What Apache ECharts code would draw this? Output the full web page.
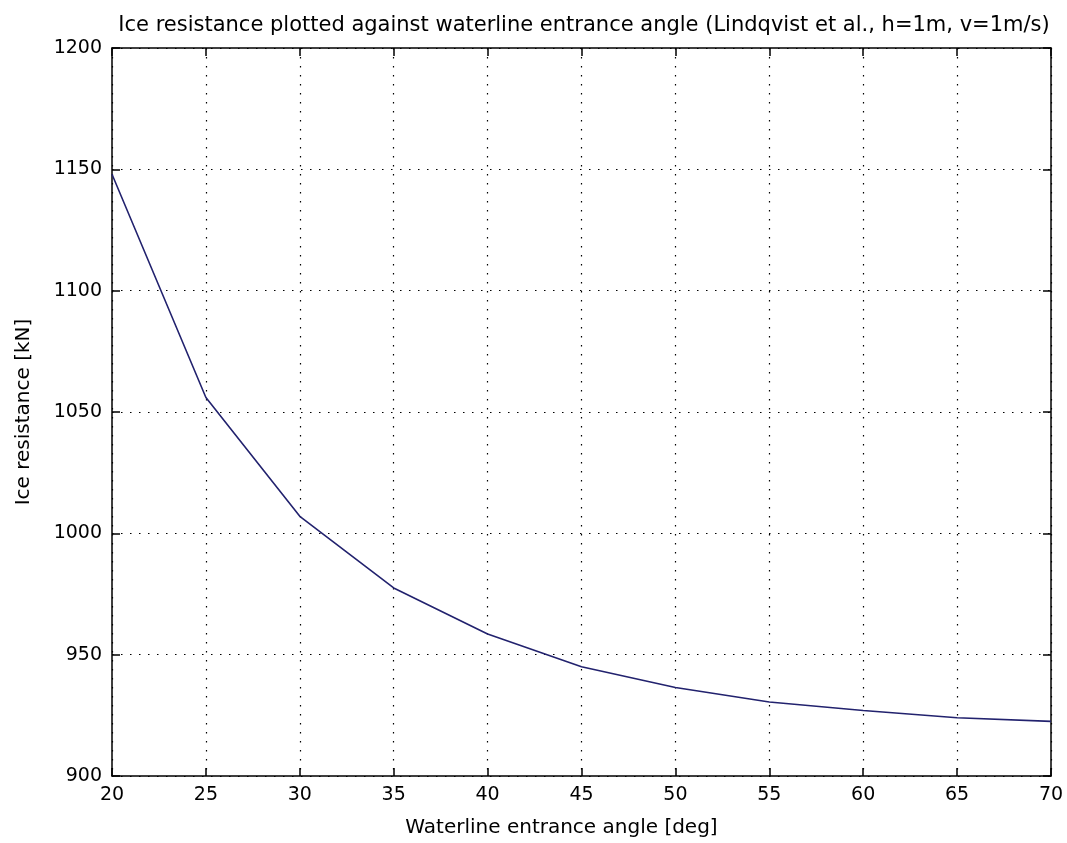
<!DOCTYPE html>
<html>
<head>
<meta charset="utf-8">
<script src="https://cdn.jsdelivr.net/npm/echarts@6/dist/echarts.min.js"></script>
<style>html,body{margin:0;padding:0;background:#fff;}#c{width:1067px;height:843px;}</style>
</head>
<body>
<div id="c"></div>
<script>
const angles = [20, 25, 30, 35, 40, 45, 50, 55, 60, 65, 70];
const resistance = [1148, 1056, 1007, 977.5, 958.5, 945, 936.5, 930.5, 927, 924, 922.5];
const titleText = 'Ice resistance plotted against waterline entrance angle (Lindqvist et al., h=1m, v=1m/s)';
const xName = 'Waterline entrance angle [deg]';
const yName = 'Ice resistance [kN]';

const FONT = 'DejaVu Sans';
const chart = echarts.init(document.getElementById('c'), null, {renderer: 'canvas'});
const gridLine = {show: true, lineStyle: {color: '#000', width: 1.2, type: [1.5, 7.5]}};
const axisLineS = {show: true, lineStyle: {color: '#000', width: 1.5}};
const tickS = {show: true, inside: true, length: 8, lineStyle: {color: '#000', width: 1.5}};
const plain = v => String(v);
chart.setOption({
  backgroundColor: '#fff',
  animation: false,
  title: {
    text: titleText, left: 579, top: 10, textAlign: 'center',
    textStyle: {fontFamily: FONT, fontSize: 21, fontWeight: 'normal', color: '#000'}
  },
  grid: {left: 112, right: 16, top: 48, bottom: 64},
  xAxis: [{
    type: 'value', min: 20, max: 70, interval: 5,
    name: xName, nameLocation: 'middle', nameGap: 42,
    nameTextStyle: {fontFamily: FONT, fontSize: 20, color: '#000', padding: [0, 40, 0, 0]},
    axisLine: axisLineS, axisTick: tickS, splitLine: gridLine,
    axisLabel: {fontFamily: FONT, fontSize: 19, color: '#000', margin: 10, formatter: plain}
  }, {
    type: 'value', min: 20, max: 70, interval: 5, position: 'top',
    axisLine: axisLineS, axisTick: tickS, splitLine: {show: false}, axisLabel: {show: false}
  }],
  yAxis: [{
    type: 'value', min: 900, max: 1200, interval: 50,
    name: yName, nameLocation: 'middle', nameGap: 78,
    nameTextStyle: {fontFamily: FONT, fontSize: 20, color: '#000'},
    axisLine: axisLineS, axisTick: tickS, splitLine: gridLine,
    axisLabel: {fontFamily: FONT, fontSize: 19, color: '#000', margin: 10, formatter: plain}
  }, {
    type: 'value', min: 900, max: 1200, interval: 50, position: 'right',
    axisLine: axisLineS, axisTick: tickS, splitLine: {show: false}, axisLabel: {show: false}
  }],
  series: [{
    type: 'line', xAxisIndex: 0, yAxisIndex: 0,
    data: angles.map((a, i) => [a, resistance[i]]),
    showSymbol: false, symbol: 'none',
    lineStyle: {color: '#22226e', width: 1.6}
  }]
});
</script>
</body>
</html>
